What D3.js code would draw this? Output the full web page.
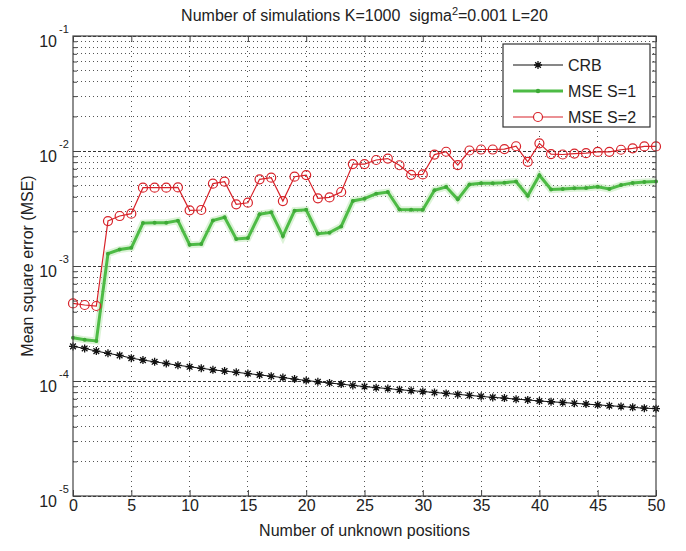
<!DOCTYPE html>
<html>
<head>
<meta charset="utf-8">
<script src="https://cdn.jsdelivr.net/npm/d3@7"></script>
<style>
  body { margin: 0; background: #fff; }
  svg { font-family: "Liberation Sans", Arial, sans-serif; }
</style>
</head>
<body>
<div id="chart"></div>
<script>
// number of unknown positions (x)
const positions = [0,1,2,3,4,5,6,7,8,9,10,11,12,13,14,15,16,17,18,19,20,
  21,22,23,24,25,26,27,28,29,30,31,32,33,34,35,36,37,38,39,40,
  41,42,43,44,45,46,47,48,49,50];

const crb = [2.00e-4,1.92e-4,1.82e-4,1.74e-4,1.67e-4,1.58e-4,1.52e-4,1.47e-4,1.42e-4,1.37e-4,
  1.33e-4,1.29e-4,1.25e-4,1.22e-4,1.19e-4,1.16e-4,1.13e-4,1.10e-4,1.07e-4,1.04e-4,
  1.01e-4,9.85e-5,9.60e-5,9.40e-5,9.15e-5,8.95e-5,8.75e-5,8.60e-5,8.40e-5,8.25e-5,
  8.10e-5,7.95e-5,7.80e-5,7.65e-5,7.50e-5,7.35e-5,7.20e-5,7.10e-5,6.95e-5,6.85e-5,
  6.70e-5,6.60e-5,6.50e-5,6.40e-5,6.30e-5,6.20e-5,6.10e-5,6.00e-5,5.90e-5,5.80e-5,5.75e-5];

const mseS1 = [2.38e-4,2.28e-4,2.23e-4,1.28e-3,1.39e-3,1.44e-3,2.36e-3,2.38e-3,2.38e-3,2.48e-3,
  1.53e-3,1.55e-3,2.49e-3,2.65e-3,1.72e-3,1.75e-3,2.82e-3,2.93e-3,1.82e-3,3.03e-3,
  3.08e-3,1.91e-3,1.95e-3,2.21e-3,3.68e-3,3.85e-3,4.25e-3,4.40e-3,3.10e-3,3.08e-3,
  3.08e-3,4.55e-3,4.88e-3,3.80e-3,5.12e-3,5.25e-3,5.25e-3,5.30e-3,5.43e-3,4.08e-3,
  6.16e-3,4.62e-3,4.67e-3,4.74e-3,4.76e-3,4.88e-3,4.67e-3,5.05e-3,5.28e-3,5.38e-3,5.42e-3];

const mseS2 = [4.73e-4,4.58e-4,4.49e-4,2.46e-3,2.72e-3,2.85e-3,4.80e-3,4.80e-3,4.80e-3,4.82e-3,
  3.05e-3,3.07e-3,5.20e-3,5.41e-3,3.44e-3,3.55e-3,5.67e-3,5.86e-3,3.67e-3,5.98e-3,
  6.18e-3,3.88e-3,3.95e-3,4.40e-3,7.70e-3,7.70e-3,8.35e-3,8.60e-3,7.52e-3,6.20e-3,
  6.25e-3,9.30e-3,9.85e-3,7.55e-3,1.01e-2,1.03e-2,1.03e-2,1.04e-2,1.10e-2,8.05e-3,
  1.165e-2,9.40e-3,9.32e-3,9.50e-3,9.58e-3,9.82e-3,9.83e-3,1.025e-2,1.055e-2,1.095e-2,1.095e-2];

const xTicks = [0,5,10,15,20,25,30,35,40,45,50];
const yDecades = [1e-5,1e-4,1e-3,1e-2,1e-1];
const seriesNames = ["CRB", "MSE S=1", "MSE S=2"];

const width = 686, height = 551;
const margin = { top: 36, right: 30, bottom: 55, left: 73 };
const w = width - margin.left - margin.right;
const h = height - margin.top - margin.bottom;

const red = "#d8232a", green = "#4dbb45", black = "#111";

const svg = d3.select("#chart").append("svg")
  .attr("width", width)
  .attr("height", height)
  .append("g")
  .attr("transform", `translate(${margin.left},${margin.top})`);

const x = d3.scaleLinear().domain([0, 50]).range([0, w]);
const y = d3.scaleLog().domain([1e-5, 1e-1]).range([h, 0]);

// grid, minor and major (decades look denser)
svg.selectAll("line.ygrid")
  .data(y.ticks())
  .enter().append("line")
  .attr("class", "ygrid")
  .attr("x1", 0).attr("x2", w)
  .attr("y1", d => y(d)).attr("y2", d => y(d))
  .style("stroke", d => yDecades.includes(d) ? "#333" : "#555")
  .style("stroke-dasharray", d => yDecades.includes(d) ? "3,2" : "1,3")
  .style("shape-rendering", "crispEdges");

svg.selectAll("line.xgrid")
  .data(xTicks.slice(1, -1))
  .enter().append("line")
  .attr("class", "xgrid")
  .attr("x1", d => x(d)).attr("x2", d => x(d))
  .attr("y1", 0).attr("y2", h)
  .style("stroke", "#555")
  .style("stroke-dasharray", "1,4")
  .style("shape-rendering", "crispEdges");

// axes, ticks inside like matlab
function styleAxis(g) {
  g.select(".domain").remove();
  g.selectAll(".tick line").style("stroke", "#444");
  g.selectAll(".tick text").style("font-size", "16px").style("fill", "#222");
}

svg.append("g")
  .attr("transform", `translate(0,${h})`)
  .call(d3.axisBottom(x).tickValues(xTicks).tickSizeInner(-6).tickSizeOuter(0).tickPadding(4))
  .call(styleAxis);

svg.append("g")
  .call(d3.axisTop(x).tickValues(xTicks).tickSizeInner(-6).tickSizeOuter(0).tickFormat(""))
  .call(styleAxis);

svg.append("g")
  .call(d3.axisLeft(y).tickValues(y.ticks()).tickSizeInner(-4).tickSizeOuter(0).tickFormat(""))
  .call(styleAxis);
svg.append("g")
  .attr("transform", `translate(${w},0)`)
  .call(d3.axisRight(y).tickValues(y.ticks()).tickSizeInner(-4).tickSizeOuter(0).tickFormat(""))
  .call(styleAxis);
svg.append("g")
  .attr("transform", `translate(${w},0)`)
  .call(d3.axisRight(y).tickValues(yDecades).tickSizeInner(-7).tickSizeOuter(0).tickFormat(""))
  .call(styleAxis);

const yAxis = svg.append("g")
  .call(d3.axisLeft(y).tickValues(yDecades).tickSizeInner(-7).tickSizeOuter(0).tickFormat(""))
  .call(styleAxis);

// 10^n labels
yAxis.selectAll(".tick").each(function(d) {
  const t = d3.select(this);
  t.append("text")
    .attr("x", -16).attr("y", 10)
    .attr("text-anchor", "end")
    .style("font-size", "16px").style("fill", "#222")
    .text("10");
  t.append("text")
    .attr("x", -14).attr("y", -4)
    .attr("text-anchor", "start")
    .style("font-size", "11px").style("fill", "#222")
    .text(Math.round(Math.log10(d)));
});

// series
const line = d3.line().x((d, i) => x(positions[i])).y(d => y(d));

svg.append("path").datum(mseS1)
  .attr("d", line).attr("fill", "none")
  .attr("stroke", "#c4ebbd").attr("stroke-width", 7).attr("opacity", 0.6);
svg.append("path").datum(mseS1)
  .attr("d", line).attr("fill", "none")
  .attr("stroke", green).attr("stroke-width", 3);
svg.selectAll("circle.s1").data(mseS1).enter().append("circle")
  .attr("class", "s1")
  .attr("cx", (d, i) => x(positions[i])).attr("cy", d => y(d))
  .attr("r", 2).attr("fill", "#3ea937");

svg.append("path").datum(mseS2)
  .attr("d", line).attr("fill", "none")
  .attr("stroke", red).attr("stroke-width", 1.2);
svg.selectAll("circle.s2").data(mseS2).enter().append("circle")
  .attr("class", "s2")
  .attr("cx", (d, i) => x(positions[i])).attr("cy", d => y(d))
  .attr("r", 4.5).attr("fill", "none")
  .attr("stroke", red).attr("stroke-width", 1.2);

const asterisk = {
  draw(ctx, size) {
    const r = Math.sqrt(size) / 2, k = r * 0.7071;
    ctx.moveTo(-r, 0); ctx.lineTo(r, 0);
    ctx.moveTo(0, -r); ctx.lineTo(0, r);
    ctx.moveTo(-k, -k); ctx.lineTo(k, k);
    ctx.moveTo(-k, k); ctx.lineTo(k, -k);
  }
};
const star = d3.symbol().type(asterisk).size(64);

svg.append("path").datum(crb)
  .attr("d", line).attr("fill", "none")
  .attr("stroke", black).attr("stroke-width", 1);
svg.selectAll("path.crb").data(crb).enter().append("path")
  .attr("class", "crb")
  .attr("transform", (d, i) => `translate(${x(positions[i])},${y(d)})`)
  .attr("d", star)
  .attr("fill", "none").attr("stroke", black).attr("stroke-width", 1.3);

// box
svg.append("rect")
  .attr("width", w).attr("height", h)
  .attr("fill", "none").attr("stroke", "#444").attr("stroke-width", 1.2);

// title and labels
svg.append("text")
  .attr("x", w / 2).attr("y", -15)
  .attr("text-anchor", "middle")
  .style("font-size", "16px").style("fill", "#222")
  .call(t => {
    t.append("tspan").text("Number of simulations K=1000\u00a0\u00a0sigma");
    t.append("tspan").attr("dy", -6).style("font-size", "11px").text("2");
    t.append("tspan").attr("dy", 6).text("=0.001 L=20");
  });

svg.append("text")
  .attr("x", w / 2).attr("y", h + 40)
  .attr("text-anchor", "middle")
  .style("font-size", "16px").style("fill", "#222")
  .text("Number of unknown positions");

svg.append("text")
  .attr("transform", `translate(${33 - margin.left},${h / 2}) rotate(-90)`)
  .attr("text-anchor", "middle")
  .style("font-size", "16px").style("fill", "#222")
  .text("Mean square error (MSE)");

// legend
const legend = svg.append("g").attr("transform", "translate(430,8)");
legend.append("rect")
  .attr("width", 147).attr("height", 83)
  .attr("fill", "#fff").attr("stroke", "#333").attr("stroke-width", 1.2);

const rows = legend.selectAll("g.row").data(seriesNames).enter().append("g")
  .attr("class", "row")
  .attr("transform", (d, i) => `translate(0,${21 + i * 26})`);

rows.append("line")
  .attr("x1", 10).attr("x2", 60)
  .attr("stroke", (d, i) => [black, green, red][i])
  .attr("stroke-width", (d, i) => i === 1 ? 3 : 1.2);

rows.filter((d, i) => i === 0).append("path")
  .attr("transform", "translate(35,0)").attr("d", star)
  .attr("fill", "none").attr("stroke", black).attr("stroke-width", 1.3);
rows.filter((d, i) => i === 1).append("circle")
  .attr("cx", 35).attr("r", 2.2).attr("fill", "#3ea937");
rows.filter((d, i) => i === 2).append("circle")
  .attr("cx", 35).attr("r", 4.5).attr("fill", "#fff")
  .attr("stroke", red).attr("stroke-width", 1.2);

rows.append("text")
  .attr("x", 65).attr("y", 6)
  .style("font-size", "16px").style("fill", "#222")
  .text(d => d);
</script>
</body>
</html>
